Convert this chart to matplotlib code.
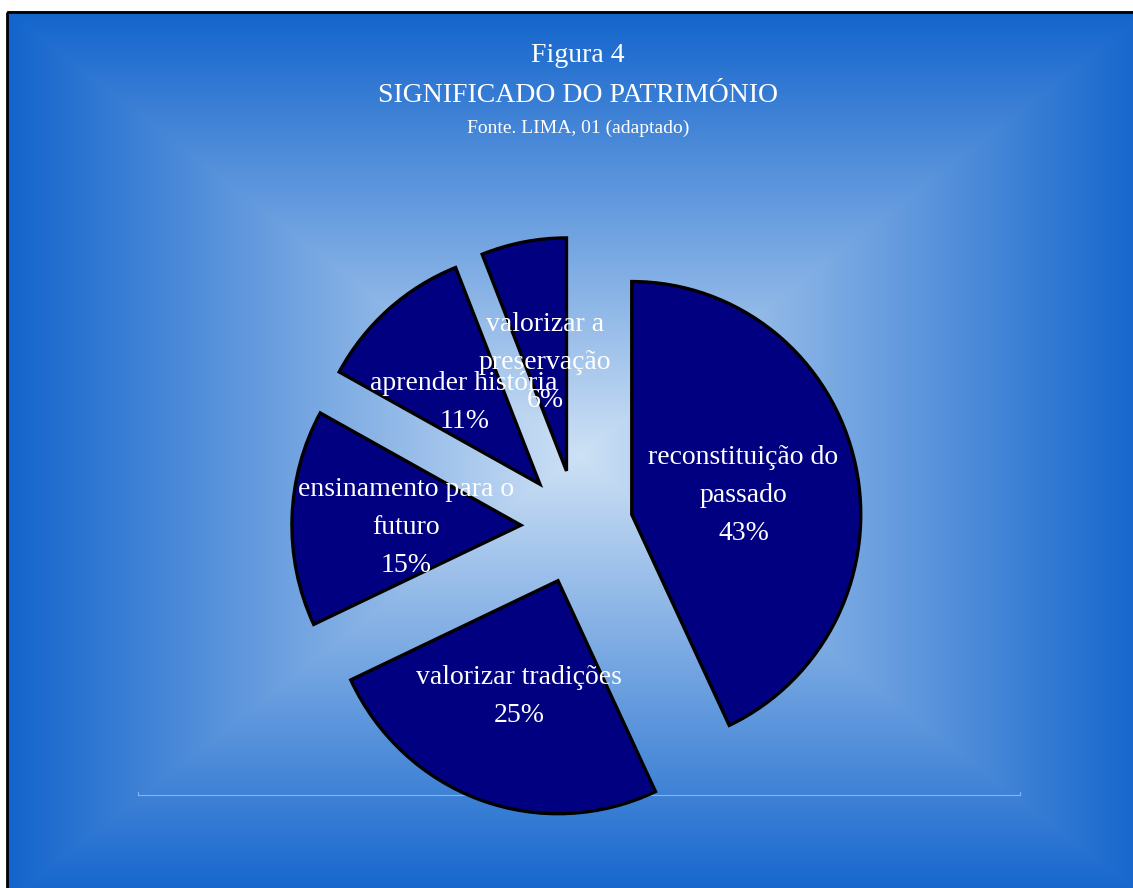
import numpy as np
import matplotlib
matplotlib.use("Agg")
import matplotlib.pyplot as plt
from matplotlib.patches import Rectangle

# Data
categories = ["reconstituição do\npassado", "valorizar tradições",
              "ensinamento para o\nfuturo", "aprender história",
              "valorizar a\npreservação"]
values = [43, 25, 15, 11, 6]

title_lines = ["Figura 4", "SIGNIFICADO DO PATRIMÓNIO"]
source = "Fonte. LIMA, 01 (adaptado)"

plt.rcParams['font.family'] = ['Liberation Serif', 'DejaVu Serif']

W, H = 1133, 888
fig = plt.figure(figsize=(W / 100, H / 100), dpi=100)
fig.patch.set_facecolor("white")

# Background: box gradient from center, pixel coordinates
bg = fig.add_axes([0, 0, 1, 1])
bg.axis("off")

left, top, right, bottom = 7, 12, 1149, 900
cx, cy = (left + right) / 2, (top + bottom) / 2
xs = np.arange(left, right) + 0.5
ys = np.arange(top, bottom) + 0.5
gx, gy = np.meshgrid(xs, ys)
t = np.maximum(np.abs(gx - cx) / ((right - left) / 2),
               np.abs(gy - cy) / ((bottom - top) / 2))
t = np.clip(t, 0, 1)
light = np.array([206, 225, 245]) / 255
dark = np.array([18, 100, 204]) / 255
img = light[None, None, :] * (1 - t[..., None]) + dark[None, None, :] * t[..., None]
bg.imshow(img, extent=(left, right, bottom, top), origin="upper",
          interpolation="bilinear", aspect="auto", zorder=0)
bg.add_patch(Rectangle((left, top), right - left, bottom - top, fill=False,
                       edgecolor="black", linewidth=2, zorder=2))
# faint plot-area baseline
bg.plot([138, 1020], [795, 795], color="#8fb2ea", linewidth=0.8, zorder=1)
bg.plot([138, 138], [792, 795], color="#8fb2ea", linewidth=0.8, zorder=1)
bg.plot([1020, 1020], [792, 795], color="#8fb2ea", linewidth=0.8, zorder=1)
bg.set_xlim(0, W)
bg.set_ylim(H, 0)

# Pie axes: 1 data unit = pie radius, center at (577, 527) px
Rx, Ry = 229.0, 233.0
pcx, pcy = 577, H - 527
ax = fig.add_axes([0, 0, 1, 1])
ax.patch.set_alpha(0)

labels = [f"{c}\n{v}%" for c, v in zip(categories, values)]
wedges, texts = ax.pie(values, labels=labels, startangle=90, counterclock=False,
                       explode=[0.245] * len(values), labeldistance=0.5,
                       colors=["#000080"] * len(values),
                       wedgeprops=dict(edgecolor="black", linewidth=2.4),
                       textprops=dict(color="white", fontsize=20,
                                      ha="center", va="center",
                                      linespacing=1.68))
for txt in texts:
    px, py = txt.get_position()
    txt.set_position((px, py - 6 / Ry))
ax.set_aspect("auto")
ax.set_xlim(-pcx / Rx, (W - pcx) / Rx)
ax.set_ylim(-pcy / Ry, (H - pcy) / Ry)
ax.axis("off")

fig.text(578 / W, 1 - 56 / H, title_lines[0], color="white", fontsize=20,
         ha="center", va="center")
fig.text(578 / W, 1 - 96 / H, title_lines[1], color="white", fontsize=20,
         ha="center", va="center")
fig.text(578 / W, 1 - 128 / H, source, color="white", fontsize=14,
         ha="center", va="center")

fig.savefig("out.png", dpi=100)
